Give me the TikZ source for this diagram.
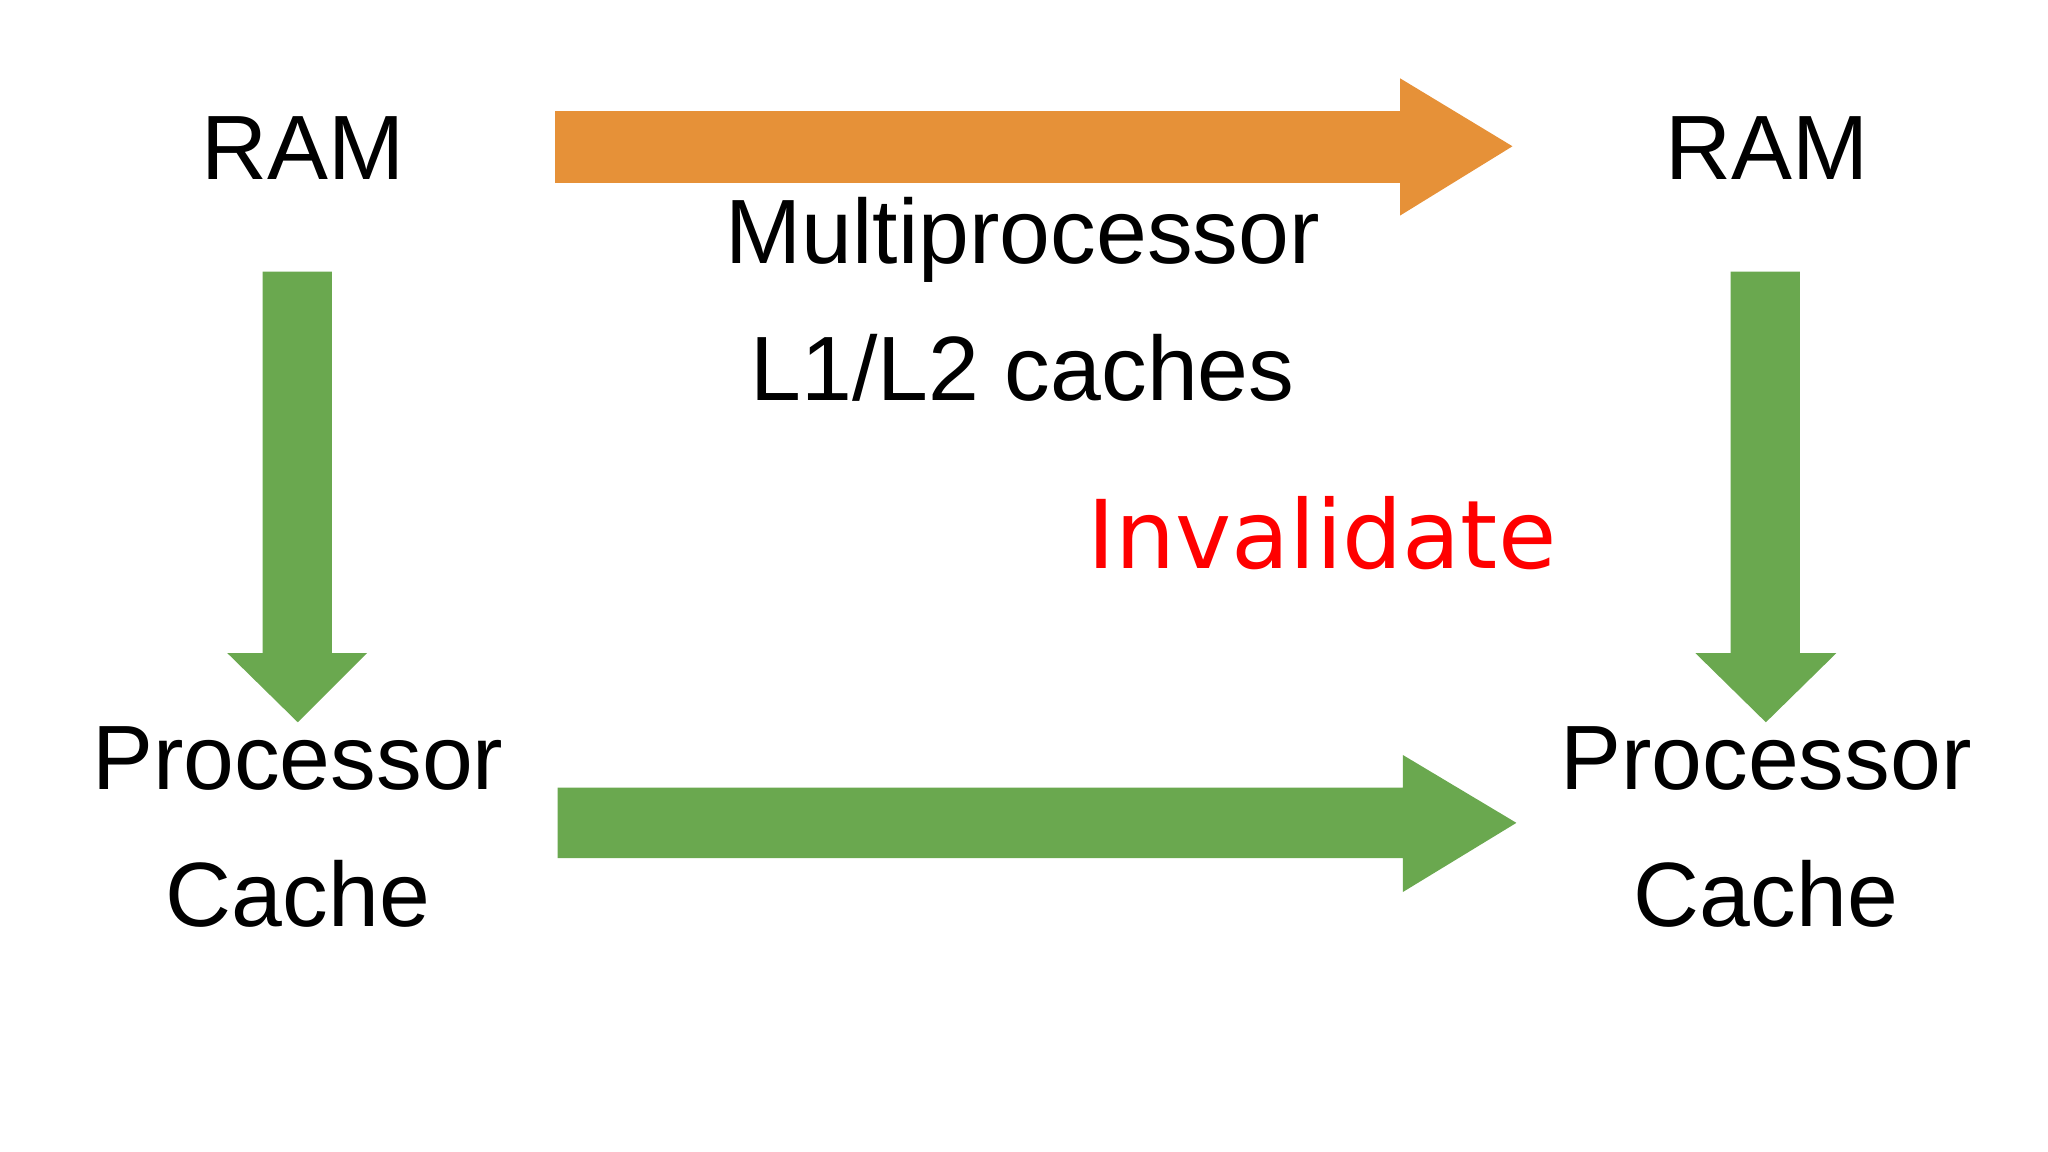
\documentclass[tikz,border=0pt]{standalone}
\usepackage{fontspec}
\setmainfont{Liberation Sans}
\begin{document}
\begin{tikzpicture}[x=0.013061cm,y=-0.013061cm,
  lbl/.style={font=\fontsize{26}{31}\selectfont, inner sep=0pt, align=center},
  green/.style={fill={rgb,255:red,106;green,168;blue,79}, draw=none},
  orange/.style={fill={rgb,255:red,230;green,145;blue,56}, draw=none}]
\useasboundingbox (0,0) rectangle (1568,882);
\node[lbl] (ramL) at (232,113) {RAM};
\node[lbl] (ramR) at (1353,113) {RAM};
\node[lbl, font=\fontsize{26}{39}\selectfont] (mp) at (783,229) {Multiprocessor\\L1/L2 caches};
\node[lbl, font=\fontsize{26}{39}\selectfont] (pcL) at (228,633) {Processor\\Cache};
\node[lbl, font=\fontsize{26}{39}\selectfont] (pcR) at (1352,633) {Processor\\Cache};
\node[lbl, text=red, font=\fontsize{27}{32}\selectfont\fontspec{DejaVu Sans}] (inv) at (1012,408) {Invalidate};
% orange arrow
\fill[orange] (425,85) -- (1072,85) -- (1072,60) -- (1158,112) -- (1072,165) -- (1072,140) -- (425,140) -- cycle;
% bottom green arrow
\fill[green] (427,603) -- (1074,603) -- (1074,578) -- (1161,630) -- (1074,683) -- (1074,657) -- (427,657) -- cycle;
% left down arrow
\fill[green] (201,208) -- (254,208) -- (254,500) -- (281,500) -- (228,553) -- (174,500) -- (201,500) -- cycle;
% right down arrow
\fill[green] (1325,208) -- (1378,208) -- (1378,500) -- (1406,500) -- (1352,553) -- (1298,500) -- (1325,500) -- cycle;
\end{tikzpicture}
\end{document}
